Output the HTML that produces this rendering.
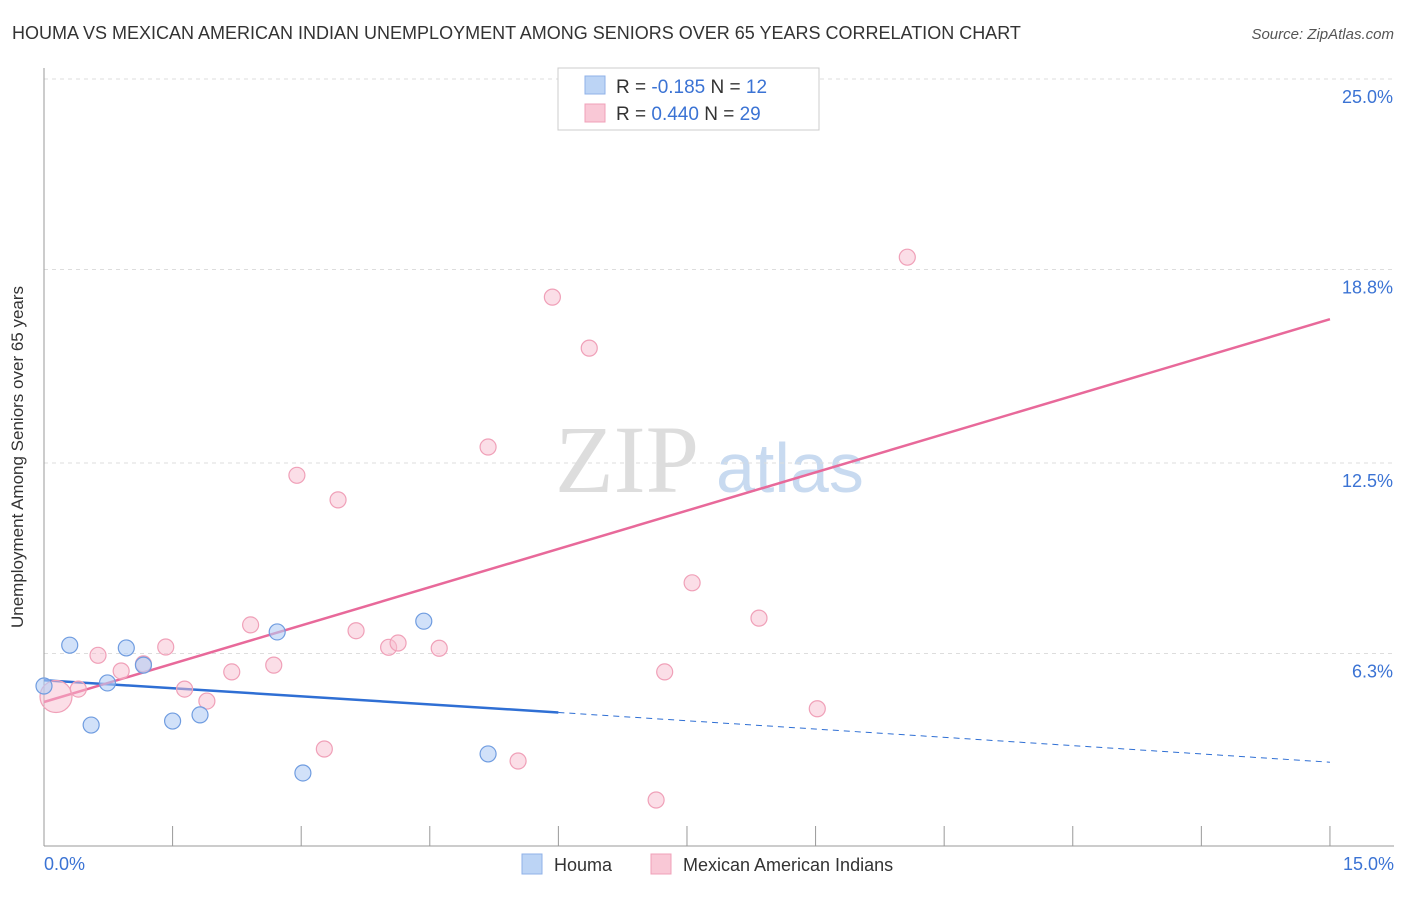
<!DOCTYPE html>
<html><head><meta charset="utf-8"><style>
body{margin:0;background:#fff;font-family:"Liberation Sans",sans-serif;}
</style></head><body>
<svg width="1406" height="892" xmlns="http://www.w3.org/2000/svg">
<text x="12" y="39" font-size="18" fill="#333">HOUMA VS MEXICAN AMERICAN INDIAN UNEMPLOYMENT AMONG SENIORS OVER 65 YEARS CORRELATION CHART</text>
<text x="1394" y="39" font-size="15" fill="#555" font-style="italic" text-anchor="end">Source: ZipAtlas.com</text>
<text x="555" y="492" font-size="96" fill="#ddd" font-family="Liberation Serif,serif">ZIP</text>
<text x="716" y="492" font-size="70" fill="#c8daf0">atlas</text>
<g id="grid"></g>
<line x1="44" y1="68" x2="44" y2="846" stroke="#999"/>
<line x1="44" y1="846" x2="1394" y2="846" stroke="#999"/>
<g id="ticks"></g>
<text x="23" y="457" font-size="17" fill="#333" text-anchor="middle" transform="rotate(-90 23 457)">Unemployment Among Seniors over 65 years</text>
<text x="44" y="870" font-size="18" fill="#3b73d4">0.0%</text>
<text x="1394" y="870" font-size="18" fill="#3b73d4" text-anchor="end">15.0%</text>
<g id="lines"></g>
<g id="points"></g>
<g>
<rect x="558" y="68" width="261" height="62" fill="#fff" stroke="#ccc"/>
<rect x="585" y="76" width="20" height="18" fill="#bcd4f5" stroke="#8fb2e8"/>
<rect x="585" y="104" width="20" height="18" fill="#f9c8d6" stroke="#f0a0b8"/>
<text x="616" y="93" font-size="19" fill="#333">R = <tspan fill="#3b73d4">-0.185</tspan>   N = <tspan fill="#3b73d4">12</tspan></text>
<text x="616" y="120" font-size="19" fill="#333">R = <tspan fill="#3b73d4"> 0.440</tspan>   N = <tspan fill="#3b73d4">29</tspan></text>
</g>
<g>
<rect x="522" y="854" width="20" height="20" fill="#bcd4f5" stroke="#8fb2e8"/>
<text x="554" y="871" font-size="18" fill="#333">Houma</text>
<rect x="651" y="854" width="20" height="20" fill="#f9c8d6" stroke="#f0a0b8"/>
<text x="683" y="871" font-size="18" fill="#333">Mexican American Indians</text>
</g>
</svg>
<script>
const yTicks=[6.3,12.5,18.8,25.0];
const yTickLabels=["6.3%","12.5%","18.8%","25.0%"];
const houmaX=[0.0,0.3,0.55,0.74,0.96,1.16,1.5,1.82,2.72,3.02,4.43,5.18];
const houmaY=[5.24,6.57,3.97,5.34,6.48,5.92,4.1,4.3,7.0,2.41,7.35,3.03];
const mexX=[0.14,0.4,0.63,0.9,1.16,1.42,1.64,1.9,2.19,2.41,2.68,2.95,3.27,3.43,3.64,4.02,4.13,4.61,5.18,5.53,5.93,6.36,7.14,7.24,7.56,7.94,8.34,9.02,10.07];
const mexY=[4.9,5.14,6.24,5.73,5.96,6.51,5.14,4.75,5.7,7.23,5.92,12.1,3.19,11.3,7.04,6.5,6.64,6.47,13.02,2.8,17.9,16.24,1.53,5.7,8.6,24.77,7.45,4.5,19.2];
const houmaLine=[5.43,4.38,2.76];
const mexLine=[4.72,17.18];
const NS="http://www.w3.org/2000/svg";
const sx=v=>44+v*85.73, sy=v=>847-v*30.72;
function mk(tag,attrs,parent){const e=document.createElementNS(NS,tag);for(const k in attrs)e.setAttribute(k,attrs[k]);parent.appendChild(e);return e;}
const grid=document.getElementById('grid');
yTicks.forEach((t,i)=>{
 const l=mk('line',{x1:44,x2:1394,y1:sy(t),y2:sy(t),stroke:'#ddd','stroke-dasharray':'4 4'},grid);
 
 
 const tx=mk('text',{x:1393,y:sy(t)+24,'font-size':18,fill:'#3b73d4','text-anchor':'end'},grid);
 tx.textContent=yTickLabels[i];
 
 
});
const tk=document.getElementById('ticks');
for(let i=0;i<=10;i++){const x=sx(i*1.5);const l=mk('line',{x1:x,x2:x,y1:826,y2:846,stroke:'#999'},tk);
 
 }
const L=document.getElementById('lines');
let a=mk('line',{x1:sx(0),y1:sy(houmaLine[0]),x2:sx(6),y2:sy(houmaLine[1]),stroke:'#2f6fd4','stroke-width':2.5},L);


a=mk('line',{x1:sx(6),y1:sy(houmaLine[1]),x2:sx(15),y2:sy(houmaLine[2]),stroke:'#2f6fd4','stroke-width':1,'stroke-dasharray':'6 5'},L);


a=mk('line',{x1:sx(0),y1:sy(mexLine[0]),x2:sx(15),y2:sy(mexLine[1]),stroke:'#e8699a','stroke-width':2.5},L);


const P=document.getElementById('points');
mexX.forEach((x,i)=>{const c=mk('circle',{cx:sx(x),cy:sy(mexY[i]),r:i==0?16:8,fill:'rgba(248,190,208,0.5)',stroke:'#f0a0b8','stroke-width':1.2},P);
 
 });
houmaX.forEach((x,i)=>{const c=mk('circle',{cx:sx(x),cy:sy(houmaY[i]),r:8,fill:'rgba(178,205,245,0.6)',stroke:'#6f9ce0','stroke-width':1.2},P);
 
 });
</script>
</body></html>
